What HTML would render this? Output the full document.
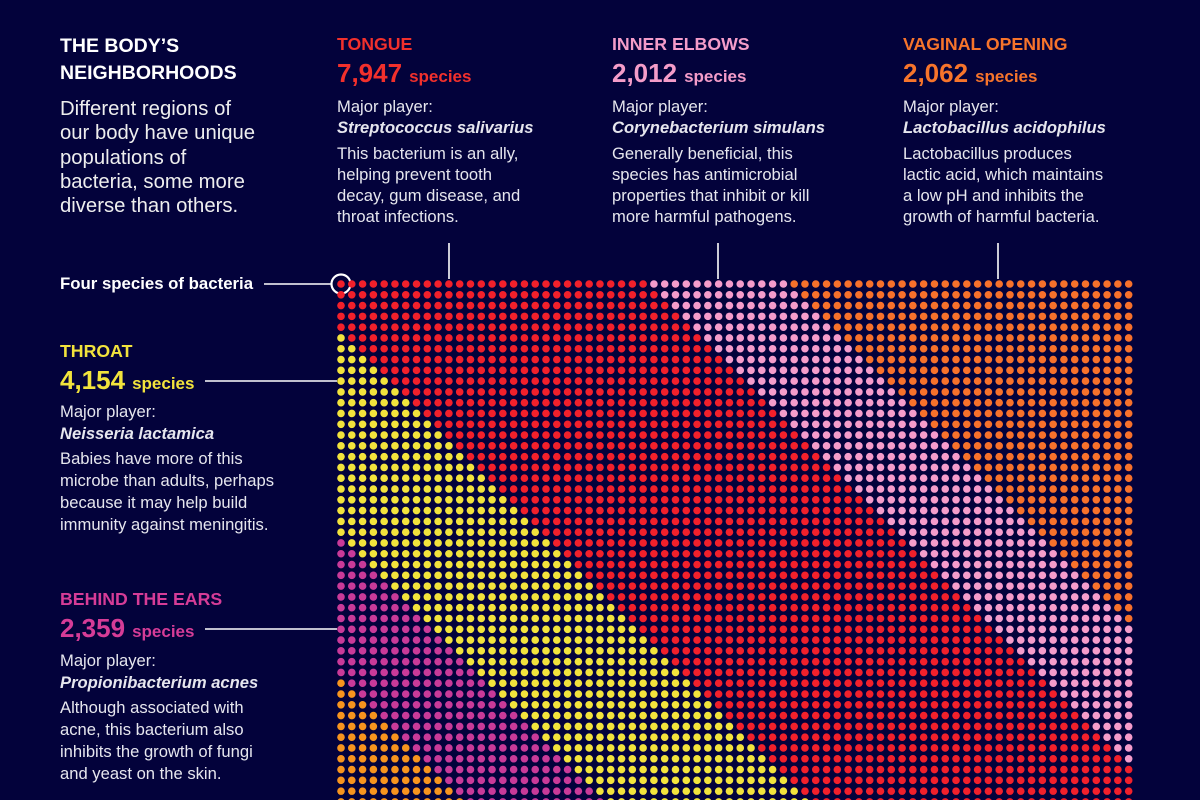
<!DOCTYPE html>
<html><head><meta charset="utf-8">
<style>
body{margin:0;width:1200px;height:800px;overflow:hidden;background:#03023b;font-family:"Liberation Sans",sans-serif;color:#e6e6ee}
.a{position:absolute;white-space:nowrap}
.h{font-weight:bold;font-size:17.7px;line-height:20px}
.n{font-weight:bold;font-size:26px;line-height:28px}
.n span{font-size:17px;margin-left:7px}
.b{font-size:16.6px;line-height:21px}
.i{font-style:italic;font-weight:bold}
</style></head><body>
<div class="a h" style="left:60px;top:33px;color:#fff;line-height:27px;font-size:19.5px">THE BODY’S<br>NEIGHBORHOODS</div>
<div class="a" style="left:60px;top:97px;font-size:20.3px;line-height:24.3px;color:#eee">Different regions of<br>our body have unique<br>populations of<br>bacteria, some more<br>diverse than others.</div>

<div class="a" style="left:337px;top:34px">
<div class="h" style="color:#f2302c">TONGUE</div>
<div class="n" style="color:#f2302c;margin-top:5px">7,947<span>species</span></div>
<div class="b" style="margin-top:5px">Major player:<br><span class="i">Streptococcus salivarius</span></div>
<div class="b" style="margin-top:5px">This bacterium is an ally,<br>helping prevent tooth<br>decay, gum disease, and<br>throat infections.</div></div>

<div class="a" style="left:612px;top:34px">
<div class="h" style="color:#f49cc9">INNER ELBOWS</div>
<div class="n" style="color:#f49cc9;margin-top:5px">2,012<span>species</span></div>
<div class="b" style="margin-top:5px">Major player:<br><span class="i">Corynebacterium simulans</span></div>
<div class="b" style="margin-top:5px">Generally beneficial, this<br>species has antimicrobial<br>properties that inhibit or kill<br>more harmful pathogens.</div></div>

<div class="a" style="left:903px;top:34px">
<div class="h" style="color:#f7742b">VAGINAL OPENING</div>
<div class="n" style="color:#f7742b;margin-top:5px">2,062<span>species</span></div>
<div class="b" style="margin-top:5px">Major player:<br><span class="i">Lactobacillus acidophilus</span></div>
<div class="b" style="margin-top:5px">Lactobacillus produces<br>lactic acid, which maintains<br>a low pH and inhibits the<br>growth of harmful bacteria.</div></div>

<div class="a" style="left:60px;top:274px;font-size:16.8px;font-weight:bold;color:#fff;line-height:20px">Four species of bacteria</div>

<div class="a" style="left:60px;top:341px">
<div class="h" style="color:#f2e33c">THROAT</div>
<div class="n" style="color:#f2e33c;margin-top:5px">4,154<span>species</span></div>
<div class="b" style="margin-top:3px;line-height:22px">Major player:<br><span class="i">Neisseria lactamica</span></div>
<div class="b" style="margin-top:3px;line-height:22px">Babies have more of this<br>microbe than adults, perhaps<br>because it may help build<br>immunity against meningitis.</div></div>

<div class="a" style="left:60px;top:589px">
<div class="h" style="color:#d63c97">BEHIND THE EARS</div>
<div class="n" style="color:#d63c97;margin-top:5px">2,359<span>species</span></div>
<div class="b" style="margin-top:4px;line-height:22px">Major player:<br><span class="i">Propionibacterium acnes</span></div>
<div class="b" style="margin-top:3px;line-height:22px">Although associated with<br>acne, this bacterium also<br>inhibits the growth of fungi<br>and yeast on the skin.</div></div>

<svg id="g" width="1200" height="800" style="position:absolute;left:0;top:0">
<g stroke="#fff" stroke-width="1.6" fill="none">
<line x1="449" y1="243" x2="449" y2="279"/>
<line x1="718" y1="243" x2="718" y2="279"/>
<line x1="998" y1="243" x2="998" y2="279"/>
<line x1="264" y1="284" x2="331" y2="284"/>
<line x1="205" y1="381" x2="337" y2="381"/>
<line x1="205" y1="629" x2="337" y2="629"/>
<circle cx="341" cy="284" r="9.5" stroke-width="2.2"/>
</g>
<g id="dots"></g>
</svg>
<script>
const regions=["tongue","throat","behind-ears","lower-orange","inner-elbows","vaginal-opening"];
const colors=["#f2202b","#f2e33c","#c93a99","#f7941e","#f59ccb","#f7712b"];
// diagonal band offsets
const throatOffset=[5];
const earsOffset=[24];
const lowerOrangeOffset=[37];
const elbowsStart=[29];
const vaginalStart=[42];
const cols=74, rows=49;
const x0=341,y0=284,step=10.79;
const xs=c=>x0+c*step, ys=r=>y0+r*step;
const g=document.getElementById('dots');
for(let r=0;r<rows;r++){for(let c=0;c<cols;c++){
 let k=0;
 if(c>=vaginalStart[0]+r)k=5;
 else if(c>=elbowsStart[0]+r)k=4;
 else if(c<=r-lowerOrangeOffset[0])k=3;
 else if(c<=r-earsOffset[0])k=2;
 else if(c<=r-throatOffset[0])k=1;
 const d=document.createElementNS('http://www.w3.org/2000/svg','circle');
 d.setAttribute('cx',xs(c));d.setAttribute('cy',ys(r));d.setAttribute('r',3.8);
 d.setAttribute('fill',colors[k]);
 
 
 g.appendChild(d);
}}
</script>
</body></html>
